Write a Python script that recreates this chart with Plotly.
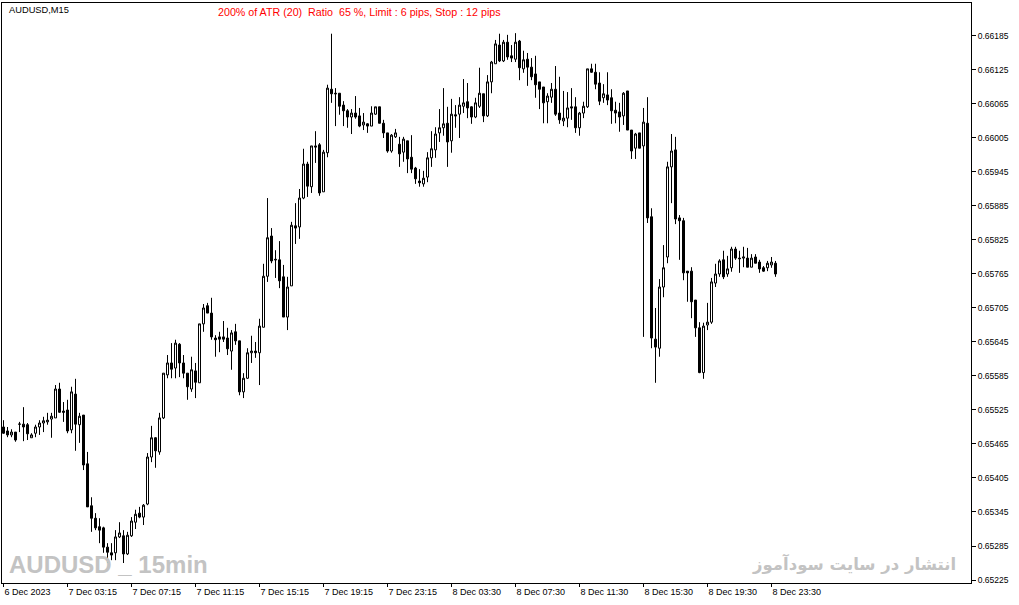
import plotly.graph_objects as go

# ---- data (prices in points, 1 point = 0.00001) ----
open_pts = [
65495,65488,65481,65486,65500,65500,65499,65476,65484,65495,
65502,65504,65509,65511,65562,65523,65525,65490,65553,65499,
65516,65430,65356,65334,65319,65317,65283,65273,65273,65301,
65303,65271,65303,65327,65343,65336,65359,65442,65476,65451,
65511,65587,65608,65599,65641,65608,65590,65562,65594,65573,
65677,65709,65696,65652,65654,65654,65652,65629,65663,65647,
65557,65581,65626,65629,65626,65671,65761,65832,65791,65790,
65760,65689,65744,65850,65848,65899,65959,65919,65991,65993,
65910,65979,66091,66084,66084,66063,66053,66042,66049,66044,
66028,66030,66026,66047,66060,66031,66014,65982,66007,65994,
65980,66000,65971,65952,65929,65924,65936,65970,65984,66014,
66023,66031,66000,66046,66047,66061,66069,66060,66042,66061,
66083,66044,66104,66136,66169,66141,66174,66150,66144,66176,
66127,66144,66130,66118,66104,66095,66069,66077,66091,66049,
66035,66040,66060,66060,66023,66049,66060,66127,66121,66102,
66076,66081,66076,66054,66051,66044,66088,66019,65987,66014,
65991,66031,65866,65650,65634,65742,65795,65954,65984,65864,
65859,65770,65770,65719,65670,65591,65675,65680,65749,65765,
65790,65765,65776,65809,65793,65793,65793,65777,65795,65786,
65776,65776,65781,65784]
high_pts = [
65507,65495,65491,65486,65504,65530,65502,65484,65499,65507,
65513,65520,65520,65569,65573,65539,65543,65566,65580,65520,
65516,65451,65371,65343,65334,65319,65290,65290,65313,65327,
65313,65310,65336,65349,65354,65359,65449,65497,65477,65520,
65590,65622,65643,65649,65643,65622,65590,65619,65608,65677,
65712,65714,65723,65657,65663,65682,65670,65666,65677,65647,
65590,65634,65656,65645,65686,65783,65899,65846,65807,65823,
65781,65760,65857,65890,65915,65986,65963,65991,66017,65996,
65984,66099,66189,66093,66084,66070,66056,66056,66079,66058,
66049,66031,66061,66060,66060,66037,66014,66012,66021,66007,
66007,66000,66010,65954,65950,65947,65980,66017,66024,66056,
66093,66060,66074,66063,66077,66109,66102,66061,66076,66129,
66083,66116,66141,66178,66189,66178,66187,66169,66190,66178,
66159,66155,66146,66150,66104,66095,66084,66102,66132,66113,
66088,66086,66093,66077,66051,66069,66127,66136,66136,66121,
66100,66121,66091,66069,66067,66086,66088,66019,66014,66014,
66058,66077,65881,65705,65756,65816,65963,66012,66007,65869,
65864,65770,65777,65719,65680,65679,65714,65758,65783,65791,
65806,65797,65813,65813,65806,65813,65811,65800,65800,65790,
65779,65788,65795,65788]
low_pts = [
65483,65477,65477,65469,65486,65470,65472,65476,65477,65481,
65486,65499,65476,65511,65520,65504,65484,65484,65453,65467,
65419,65354,65310,65313,65290,65273,65255,65260,65260,65299,
65255,65269,65301,65315,65334,65322,65357,65433,65423,65446,
65509,65581,65581,65581,65583,65581,65543,65557,65546,65573,
65663,65696,65649,65619,65627,65645,65622,65596,65640,65551,
65546,65580,65608,65617,65569,65671,65751,65784,65758,65740,
65689,65666,65744,65818,65827,65897,65901,65908,65961,65903,
65910,65971,66067,66026,66046,66026,66023,66012,66039,66024,
66019,66014,66026,66046,66031,66005,65979,65979,66005,65954,
65963,65943,65943,65924,65919,65919,65927,65954,65970,65998,
66009,65954,65979,66023,66005,66049,66040,66030,66040,66058,
66033,66042,66084,66136,66139,66139,66143,66139,66139,66107,
66120,66097,66107,66076,66056,66031,66031,66067,66044,66030,
66026,66024,66037,66014,66009,66040,66058,66120,66091,66063,
66067,66063,66030,66031,66016,66028,66019,65968,65968,65987,
65654,65855,65634,65573,65619,65724,65784,65890,65853,65790,
65754,65716,65687,65654,65590,65580,65666,65677,65742,65760,
65756,65760,65769,65790,65767,65777,65777,65777,65784,65767,
65769,65770,65776,65760]
close_pts = [
65484,65481,65486,65472,65500,65495,65483,65481,65495,65502,
65506,65507,65514,65562,65521,65521,65488,65557,65500,65514,
65428,65354,65334,65317,65313,65283,65274,65269,65301,65308,
65271,65304,65329,65341,65336,65357,65442,65476,65453,65511,
65590,65608,65597,65643,65608,65590,65566,65596,65574,65677,
65705,65696,65654,65649,65650,65650,65633,65661,65647,65557,
65581,65626,65629,65626,65673,65761,65829,65788,65790,65753,
65689,65742,65851,65846,65899,65959,65920,65991,65989,65908,
65980,66093,66083,66083,66061,66053,66042,66049,66042,66026,
66033,66026,66049,66060,66031,66014,65982,66010,66014,65977,
66003,65968,65950,65933,65926,65934,65970,65986,66012,66023,
66030,65998,66047,66044,66063,66067,66058,66042,66067,66084,
66044,66104,66139,66171,66141,66174,66148,66146,66174,66129,
66143,66130,66113,66099,66091,66067,66079,66091,66047,66037,
66040,66058,66058,66023,66049,66061,66127,66121,66100,66070,
66083,66072,66053,66049,66042,66084,66019,65982,66012,65987,
66033,65864,65652,65636,65742,65776,65954,65982,65862,65859,
65767,65767,65716,65670,65591,65673,65680,65751,65765,65788,
65760,65774,65809,65793,65792,65795,65777,65793,65784,65774,
65770,65784,65786,65765]

time_labels = ["6 Dec 2023", "7 Dec 03:15", "7 Dec 07:15", "7 Dec 11:15",
               "7 Dec 15:15", "7 Dec 19:15", "7 Dec 23:15", "8 Dec 03:30",
               "8 Dec 07:30", "8 Dec 11:30", "8 Dec 15:30", "8 Dec 19:30",
               "8 Dec 23:30"]
price_ticks = [0.65225, 0.65285, 0.65345, 0.65405, 0.65465, 0.65525, 0.65585,
               0.65645, 0.65705, 0.65765, 0.65825, 0.65885, 0.65945, 0.66005,
               0.66065, 0.66125, 0.66185]

symbol_label = "AUDUSD,M15"
info_label = "200% of ATR (20)\u00a0\u00a0Ratio\u00a0\u00a065 %, Limit : 6 pips, Stop : 12 pips"
watermark_left = "AUDUSD _ 15min"
watermark_right = "انتشار در سایت سودآموز"

# ---- figure ----
n = len(open_pts)
x = list(range(n))
P = 1e-5
o = [v * P for v in open_pts]
h = [v * P for v in high_pts]
l = [v * P for v in low_pts]
c = [v * P for v in close_pts]

W, H = 1019, 605
ML, MR, MT, MB = 2, 48, 3, 22
PW, PH = W - ML - MR, H - MT - MB


def px_x(p):
    return (p - ML) / PW


def px_y(p):
    return (MT + PH - p) / PH


fig = go.Figure()
fig.add_trace(go.Candlestick(
    x=x, open=o, high=h, low=l, close=c,
    increasing=dict(line=dict(color="black", width=1), fillcolor="white"),
    decreasing=dict(line=dict(color="black", width=1), fillcolor="black"),
    whiskerwidth=0,
    hoverinfo="skip",
    showlegend=False,
))

step = 16
tickvals_x = [i * step for i in range(len(time_labels))]

fig.update_layout(
    width=W, height=H,
    margin=dict(l=ML, r=MR, t=MT, b=MB, pad=0),
    paper_bgcolor="white", plot_bgcolor="white",
    font=dict(family="Liberation Sans, Arial, sans-serif", size=9, color="black"),
    showlegend=False,
    boxgap=0.5, boxgroupgap=0,
    xaxis=dict(
        range=[-0.375, 241.875],
        rangeslider=dict(visible=False),
        showgrid=False, zeroline=False,
        showline=True, mirror=True, linecolor="black", linewidth=1,
        tickmode="array", tickvals=tickvals_x, ticktext=time_labels,
        ticks="outside", ticklen=3, tickcolor="black",
        ticklabelposition="outside right",
        tickfont=dict(size=9, color="black"),
        fixedrange=True,
    ),
    yaxis=dict(
        range=[0.6521970, 0.6624320],
        side="right",
        showgrid=False, zeroline=False,
        showline=True, mirror=True, linecolor="black", linewidth=1,
        tickmode="array", tickvals=price_ticks,
        ticktext=[f"{v:.5f}" for v in price_ticks],
        ticks="outside", ticklen=4, tickcolor="black",
        tickfont=dict(size=8.5, color="black"),
        fixedrange=True,
    ),
    annotations=[
        dict(text=symbol_label, xref="paper", yref="paper",
             x=px_x(7), y=px_y(10), xanchor="left", yanchor="middle",
             showarrow=False, font=dict(size=9.3, color="black")),
        dict(text=info_label, xref="paper", yref="paper",
             x=px_x(216), y=px_y(11.5), xanchor="left", yanchor="middle",
             showarrow=False, font=dict(size=10.7, color="#ff0000")),
        dict(text="<b>" + watermark_left + "</b>", xref="paper", yref="paper",
             x=px_x(7), y=px_y(564), xanchor="left", yanchor="middle",
             showarrow=False,
             font=dict(family="Liberation Sans Narrow, Arial Narrow, Liberation Sans, sans-serif",
                       size=24, color="#c3c3c3")),
        dict(text="<b>" + watermark_right + "</b>", xref="paper", yref="paper",
             x=px_x(958), y=px_y(564), xanchor="right", yanchor="middle",
             showarrow=False,
             font=dict(family="DejaVu Sans, sans-serif", size=16.5, color="#c3c3c3")),
    ],
)

fig.write_html("out.html", config={"displayModeBar": False},
               post_script="document.body.style.margin='0';")
